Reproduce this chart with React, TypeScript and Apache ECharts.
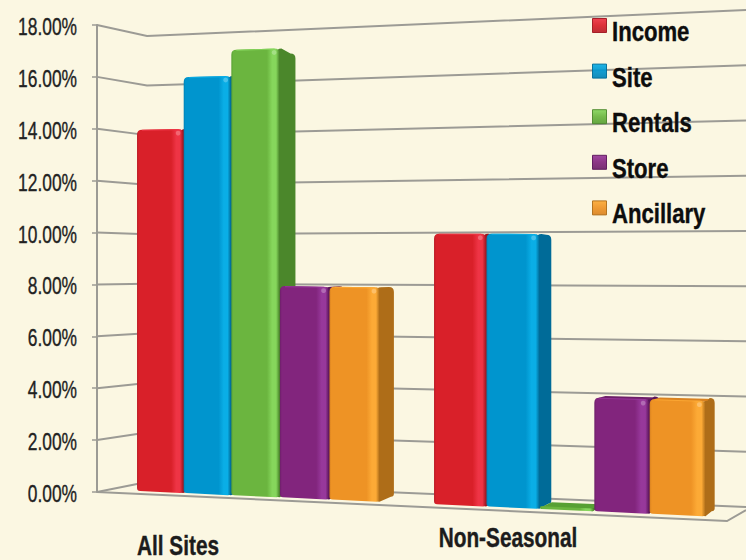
import React, { useEffect, useRef } from "react";
import * as echarts from "echarts";

const categories = ["All Sites", "Non-Seasonal"];
const seriesNames = ["Income", "Site", "Rentals", "Store", "Ancillary"];
const income = [14, 10];
const site = [16, 10];
const rentals = [17, 0.1];
const store = [8, 4.1];
const ancillary = [8, 4.1];
const yTicks = [0, 2, 4, 6, 8, 10, 12, 14, 16, 18];

const FONT = '"Liberation Sans", sans-serif';
const PAPER = "#FBF7E2";
const GRID_GREY = "#9C9B95";

// face, highlight, right side and top shades for each series
const shades = [
  { face: "#D92029", glow: "#EE3445", side: "#9E1620", top: "#B81C26" },
  { face: "#0095CE", glow: "#0AAEE6", side: "#006B98", top: "#0082B5" },
  { face: "#6BB53F", glow: "#86D65C", side: "#4B872B", top: "#57A033" },
  { face: "#82257D", glow: "#97389B", side: "#5A1559", top: "#6D1F69" },
  { face: "#EE9325", glow: "#FCAA36", side: "#AE6D18", top: "#D98220" },
];

// The floor recedes in perspective, so grid x is bent a little on its way to the screen.
const warpX = (g: number) => 29.45 + 0.8433 * g + 0.0001767 * g * g;
const floorY = (x: number) => 491 + 0.0444 * (x - 137);
const heightScale = (x: number) => (25.8 + 0.0042 * (x - 137)) / 25.94;
const sideWidth = (x: number) => Math.max(8, 16 - 0.016 * (x - 280));

function face(tlx: number, tly: number, trx: number, try_: number, brx: number, bry: number, blx: number, bly: number, r: number, rb: number) {
  return [
    `M${tlx} ${tly + r}`,
    `Q${tlx} ${tly} ${tlx + r} ${tly}`,
    `L${trx - r} ${try_}`,
    `Q${trx} ${try_} ${trx} ${try_ + r}`,
    `L${brx} ${bry - rb}`,
    `Q${brx} ${bry} ${brx - rb} ${bry}`,
    `L${blx + rb} ${bly}`,
    `Q${blx} ${bly} ${blx} ${bly - rb}`,
    "Z",
  ].join(" ");
}

function barRenderer(slot: number) {
  const s = shades[slot];
  return (_params: any, api: any) => {
    const c = api.value(0);
    const v = api.value(1);
    const base = api.coord([c, 0]);
    const top = api.coord([c, v]);
    const band = api.size([1, 0])[0];
    const step = band * 0.1653;
    const gl = base[0] + (slot - 2.5) * step;
    const xl = warpX(gl);
    const xr = warpX(gl + step) - 0.5;
    const px = base[1] - top[1];
    const ybl = floorY(xl);
    const ybr = floorY(xr);
    const ytl = ybl - px * heightScale(xl);
    const ytr = ybr - px * heightScale(xr);
    const dx = sideWidth(xr);
    const d = -5 + 0.588 * v;
    const r = Math.min(5, (ybl - ytl) / 2);
    const rb = Math.min(3, (ybl - ytl) / 2);
    const w = xr - xl;

    const children: any[] = [];
    if (d < 0) {
      children.push({
        type: "polygon",
        shape: { points: [[xl + 1, ytl + 1], [xr, ytr + 1], [xr + dx, ytr + d + 1], [xl + dx + 1, ytl + d + 1]] },
        style: { fill: s.top },
      });
    }
    children.push({
      type: "path",
      shape: { pathData: face(xr - 3, ytr, xr + dx, ytr + d, xr + dx, ybr - 5, xr - 3, ybr, r, rb) },
      style: { fill: s.side },
    });
    children.push({
      type: "path",
      shape: { pathData: face(xl, ytl, xr, ytr, xr, ybr, xl, ybl, r, rb) },
      style: {
        fill: new echarts.graphic.LinearGradient(0, 0, 1, 0, [
          { offset: 0, color: s.top },
          { offset: 0.04, color: s.face },
          { offset: 0.74, color: s.face },
          { offset: 0.85, color: s.glow },
          { offset: 0.93, color: s.glow },
          { offset: 1, color: s.side },
        ]),
      },
    });
    if (ybl - ytl > 8) {
      children.push({
        type: "polyline",
        shape: { points: [[xl + r, ytl + 0.6], [xr - r, ytr + 0.6]] },
        style: { stroke: s.glow, lineWidth: 1.2, fill: null, opacity: 0.8 },
      });
      children.push({
        type: "circle",
        shape: { cx: xl + w * 0.89, cy: ytr + 4, r: 2.4 },
        style: { fill: "#ffffff", opacity: 0.25 },
      });
    }
    return { type: "group", children };
  };
}

// Back wall, side wall and floor lines plus the narrowed tick label, one set per tick value.
function gridRenderer(_params: any, api: any) {
  const v = api.value(1);
  const [cx, y] = api.coord([0, v]);
  const band = api.size([1, 0])[0];
  const x0 = cx - band / 2;
  const y0 = api.coord([0, 0])[1];
  const rise = y0 - y;
  const lineStyle = { stroke: GRID_GREY, lineWidth: 2, fill: null };
  const children: any[] = [
    {
      type: "polyline",
      shape: { points: [[x0, y], [x0 + 50, 482 - rise * 0.955], [746, 507 - rise * 1.064]] },
      style: lineStyle,
    },
    {
      type: "text",
      x: x0 - 20,
      y: y + 1.5,
      scaleX: 0.74,
      style: {
        text: `${v.toFixed(2)}%`,
        font: `23.5px ${FONT}`,
        fill: "#222222",
        stroke: "#222222",
        lineWidth: 0.35,
        textAlign: "right",
        textVerticalAlign: "middle",
      },
    },
  ];
  if (v === 0) {
    children.push({
      type: "polyline",
      shape: { points: [[x0, y], [x0 + 2 * band, 521], [746, 510]] },
      style: lineStyle,
    });
  }
  return { type: "group", children };
}

function categoryRenderer(params: any, api: any) {
  const i = params.dataIndex;
  const [x, y] = api.coord([i, 0]);
  const shifts = [[-76.5, 53], [-61.5, 45]];
  return {
    type: "text",
    x: x + shifts[i][0],
    y: y + shifts[i][1],
    scaleX: 0.77,
    style: {
      text: categories[i],
      font: `bold 27px ${FONT}`,
      fill: "#1c1c1c",
      stroke: "#1c1c1c",
      lineWidth: 0.4,
      textAlign: "center",
      textVerticalAlign: "middle",
    },
  };
}

// Key in the upper right: bevelled swatch and narrowed bold name per series.
function keyElements() {
  const out: any[] = [];
  seriesNames.forEach((name, i) => {
    const rowY = 18 + i * 45.6;
    out.push({
      type: "rect",
      z: 10,
      shape: { x: 592.5, y: rowY + 0.5, width: 14, height: 14 },
      style: {
        fill: new echarts.graphic.LinearGradient(0, 0, 0, 1, [
          { offset: 0, color: shades[i].glow },
          { offset: 0.5, color: shades[i].face },
          { offset: 1, color: shades[i].top },
        ]),
        stroke: shades[i].side,
        lineWidth: 1,
        opacity: 0.92,
      },
    });
    out.push({
      type: "text",
      z: 11,
      x: 612,
      y: rowY + 13,
      scaleX: 0.79,
      style: {
        text: name,
        font: `bold 28px ${FONT}`,
        fill: "#0d0d0d",
        stroke: "#0d0d0d",
        lineWidth: 0.4,
        textAlign: "left",
        textVerticalAlign: "middle",
      },
    });
  });
  return out;
}

export default function App() {
  const ref = useRef<HTMLDivElement>(null);

  useEffect(() => {
    document.body.style.margin = "0";
    document.body.style.background = PAPER;
    const chart = echarts.init(ref.current!, null, { renderer: "svg" });
    const values = [income, site, rentals, store, ancillary];
    chart.setOption({
      animation: false,
      backgroundColor: PAPER,
      grid: { left: 97, right: 19, top: 25, bottom: 68 },
      xAxis: { type: "category", data: categories, show: false },
      yAxis: {
        type: "value",
        min: 0,
        max: 18,
        interval: 2,
        splitLine: { show: false },
        axisLine: { show: true, lineStyle: { color: GRID_GREY, width: 2 } },
        axisTick: { show: true, length: 5, lineStyle: { color: GRID_GREY, width: 1.5 } },
        axisLabel: { show: false },
      },
      graphic: { elements: keyElements() },
      series: [
        {
          type: "custom",
          name: "grid",
          silent: true,
          renderItem: gridRenderer,
          data: yTicks.map((t) => [0, t]),
          z: 1,
        },
        ...seriesNames.map((name, slot) => ({
          type: "custom",
          name,
          renderItem: barRenderer(slot),
          itemStyle: { color: shades[slot].face },
          data: values[slot].map((v, i) => [i, v]),
          z: 2,
        })),
        {
          type: "custom",
          name: "categories",
          silent: true,
          renderItem: categoryRenderer,
          data: categories.map((_, i) => [i, 0]),
          z: 3,
        },
      ],
    });
    return () => chart.dispose();
  }, []);

  return <div ref={ref} style={{ position: "absolute", left: 0, top: 0, width: 746, height: 560 }} />;
}
